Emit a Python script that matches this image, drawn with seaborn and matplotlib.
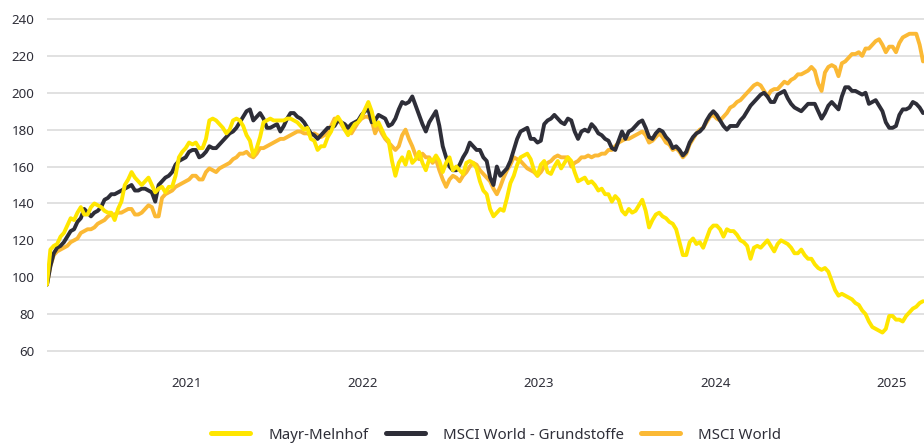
import numpy as np
import pandas as pd
import matplotlib
matplotlib.use('Agg')
import matplotlib.pyplot as plt
from matplotlib.lines import Line2D
import seaborn as sns

# ---------------- data (weekly) ----------------
start_date = '2020-03-19'
end_date = '2025-03-08'

mayr = [
    96, 115, 117, 118, 122, 124, 128, 132, 131, 135, 138, 134, 134, 138, 140, 139, 138, 136, 135, 135, 131, 137,
    141, 150, 153, 157, 154, 152, 150, 152, 154, 150, 146, 148, 149, 146, 149, 149, 155, 165, 168, 170, 173, 172,
    173, 170, 170, 175, 185, 186, 185, 183, 181, 178, 180, 185, 186, 185, 182, 177, 174, 166, 170, 176, 184, 185,
    186, 185, 185, 185, 185, 186, 186, 185, 184, 182, 180, 181, 175, 174, 169, 171, 171, 176, 179, 184, 187,
    184, 180, 177, 180, 183, 184, 187, 191, 195, 190, 182, 184, 180, 176, 174, 163, 155, 162, 165, 161, 168, 162,
    164, 168, 162, 158, 164, 163, 166, 163, 157, 162, 165, 158, 160, 158, 156, 162, 163, 162, 159, 152, 147,
    145, 137, 133, 135, 137, 136, 143, 151, 155, 161, 165, 166, 167, 164, 158, 155, 161, 163, 157, 156, 160, 163,
    159, 162, 165, 163, 157, 152, 153, 154, 151, 152, 150, 147, 148, 145, 145, 141, 144, 142, 136, 134, 137,
    135, 136, 139, 142, 136, 127, 131, 134, 135, 133, 132, 130, 129, 126, 119, 112, 112, 119, 121, 118, 119, 116,
    121, 126, 128, 128, 126, 122, 126, 125, 125, 123, 120, 119, 117, 110, 116, 117, 116, 118, 120, 117, 114,
    118, 120, 119, 118, 116, 113, 113, 115, 112, 110, 110, 107, 105, 104, 105, 103, 98, 93, 90, 91, 90, 89,
    88, 86, 85, 82, 80, 76, 73, 72, 71, 70, 72, 79, 79, 77, 77, 76, 79, 81, 83, 84, 86, 87,
]

grund = [
    96, 106, 113, 116, 117, 119, 122, 125, 126, 130, 132, 137, 135, 133, 135, 136, 138, 142, 143, 145, 145, 146,
    147, 148, 149, 150, 147, 147, 148, 148, 147, 146, 141, 150, 152, 154, 155, 157, 161, 163, 164, 165, 168, 169,
    169, 165, 166, 168, 171, 170, 170, 172, 174, 176, 178, 179, 181, 184, 187, 190, 191, 185, 187, 189, 186, 181,
    181, 182, 183, 179, 182, 186, 189, 189, 187, 186, 184, 181, 178, 177, 175, 177, 179, 181, 181, 182, 185,
    184, 183, 181, 183, 184, 185, 188, 190, 191, 184, 185, 188, 187, 186, 182, 183, 186, 191, 195, 194, 195, 198,
    193, 188, 183, 179, 184, 187, 190, 182, 171, 165, 160, 158, 158, 161, 165, 168, 173, 171, 169, 169, 165,
    163, 154, 150, 160, 155, 157, 159, 163, 169, 175, 179, 180, 181, 175, 175, 173, 174, 183, 185, 186, 188, 186,
    184, 183, 186, 185, 179, 175, 179, 180, 179, 183, 181, 178, 177, 175, 174, 170, 169, 174, 179, 175, 179,
    180, 182, 184, 185, 181, 176, 175, 178, 180, 179, 176, 174, 170, 171, 169, 166, 168, 173, 176, 178, 179, 181,
    185, 188, 190, 188, 185, 182, 180, 182, 182, 182, 185, 187, 190, 193, 195, 197, 199, 200, 198, 195, 195,
    199, 200, 201, 197, 194, 192, 191, 190, 192, 194, 194, 194, 190, 186, 189, 193, 195, 193, 191, 198, 203, 203,
    201, 201, 200, 199, 200, 194, 195, 196, 193, 190, 184, 181, 181, 182, 188, 191, 191, 192, 195, 194, 192, 189,
]

msci = [
    96, 106, 112, 114, 115, 116, 117, 119, 120, 121, 124, 125, 126, 126, 127, 129, 130, 131, 133, 134, 134, 135,
    135, 136, 137, 137, 134, 134, 135, 137, 139, 138, 133, 133, 143, 145, 146, 147, 149, 150, 151, 152, 153, 155,
    155, 153, 153, 157, 159, 158, 157, 159, 160, 161, 162, 164, 165, 167, 167, 168, 166, 165, 167, 170, 170, 171,
    172, 173, 174, 175, 175, 176, 177, 178, 179, 179, 178, 178, 177, 178, 177, 176, 177, 179, 182, 186, 186,
    183, 180, 179, 178, 181, 184, 186, 187, 187, 185, 178, 182, 178, 175, 173, 171, 169, 171, 177, 180, 175, 171,
    166, 164, 167, 165, 165, 162, 164, 158, 153, 149, 153, 155, 154, 152, 155, 157, 160, 162, 161, 158, 156,
    154, 152, 148, 145, 149, 154, 158, 161, 165, 164, 163, 161, 159, 158, 157, 155, 157, 160, 162, 163, 165, 166,
    165, 165, 165, 160, 162, 163, 165, 165, 166, 165, 166, 166, 167, 167, 169, 169, 171, 173, 174, 175, 175,
    176, 177, 178, 179, 177, 173, 174, 176, 178, 176, 173, 172, 169, 170, 168, 165, 167, 172, 175, 178, 180, 181,
    184, 187, 188, 186, 185, 187, 189, 192, 193, 195, 196, 198, 200, 202, 204, 205, 204, 201, 198, 201, 202,
    202, 204, 206, 205, 207, 208, 210, 210, 211, 212, 214, 212, 205, 201, 211, 214, 215, 214, 209, 216, 217, 219,
    221, 221, 222, 220, 224, 224, 226, 228, 229, 226, 222, 225, 225, 222, 227, 230, 231, 232, 232, 232, 226, 217,
]

series_names = ['Mayr-Melnhof', 'MSCI World - Grundstoffe', 'MSCI World']
y_ticks = [60, 80, 100, 120, 140, 160, 180, 200, 220, 240]
year_labels = ['2021', '2022', '2023', '2024', '2025']

# ---------------- style ----------------
sns.set_style('white')
plt.rcParams['font.family'] = ['Noto Sans', 'DejaVu Sans']

c_yellow = '#FFE600'
c_dark = '#2E2E38'
c_orange = '#FBB935'
text_col = '#2E2E38'

W, H = 924, 444
fig = plt.figure(figsize=(W / 100, H / 100), dpi=100)

ymin, ymax = 59.4, 240.6
px_per_unit = 332 / 180.0
ax_bottom_px = 351 + (60 - ymin) * px_per_unit
ax_top_px = 19 - (ymax - 240) * px_per_unit
ax = fig.add_axes([47 / W, 1 - ax_bottom_px / H, 877 / W, (ax_bottom_px - ax_top_px) / H])

df = pd.DataFrame({
    'date': pd.date_range(start_date, periods=len(mayr), freq='7D'),
    series_names[0]: mayr,
    series_names[1]: grund,
    series_names[2]: msci,
})

colors = {series_names[0]: c_yellow, series_names[1]: c_dark, series_names[2]: c_orange}
draw_order = [(series_names[2], 3), (series_names[1], 4), (series_names[0], 5)]
for name, z in draw_order:
    sns.lineplot(data=df, x='date', y=name, color=colors[name], linewidth=2.8,
                 ax=ax, legend=False, zorder=z, solid_joinstyle='round')

ax.set_ylim(ymin, ymax)
ax.set_xlim(pd.Timestamp(start_date), pd.Timestamp(end_date))
ax.set_yticks(y_ticks)
ax.set_xticks([pd.Timestamp(f'{y}-01-01') for y in year_labels])
ax.set_xticklabels(year_labels)
ax.set_xlabel('')
ax.set_ylabel('')

ax.yaxis.grid(True, color='#DEDEDE', linewidth=1.3)
ax.xaxis.grid(False)
ax.set_axisbelow(True)
for s in ax.spines.values():
    s.set_visible(False)

ax.tick_params(axis='y', length=0, pad=9, labelsize=9.6, labelcolor=text_col)
ax.tick_params(axis='x', length=4, width=1.6, color='#D6D6D6', pad=14,
               labelsize=9.6, labelcolor=text_col)

handles = [Line2D([], [], color=colors[n], linewidth=3.6) for n in series_names]
leg = fig.legend(handles, series_names, loc='center', bbox_to_anchor=(496 / W, 1 - 435 / H),
                 ncol=3, frameon=False, handlelength=2.6, handletextpad=1.2,
                 columnspacing=1.15, fontsize=10.8, borderpad=0)
for t in leg.get_texts():
    t.set_color(text_col)

fig.savefig('out.png', dpi=100)
